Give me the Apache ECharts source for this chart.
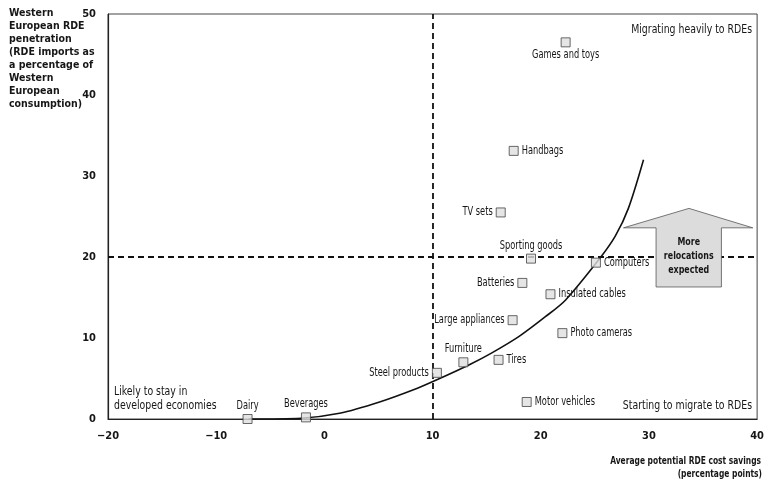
<!DOCTYPE html>
<html>
<head>
<meta charset="utf-8">
<script src="https://cdn.jsdelivr.net/npm/echarts@6/dist/echarts.min.js"></script>
<style>
html,body{margin:0;padding:0;background:#fff;}
#c{width:767px;height:479px;}
</style>
</head>
<body>
<div id="c"></div>
<script>
// ---- data ----
const xTicks = [-20, -10, 0, 10, 20, 30, 40];
const yTicks = [0, 10, 20, 30, 40, 50];
const industries = ['Games and toys','Handbags','TV sets','Sporting goods','Computers','Batteries','Insulated cables','Large appliances','Photo cameras','Furniture','Tires','Steel products','Motor vehicles','Dairy','Beverages'];
const costSavings = [22.3, 17.5, 16.3, 19.1, 25.1, 18.3, 20.9, 17.4, 22.0, 12.85, 16.1, 10.4, 18.7, -7.1, -1.7];
const penetration = [46.5, 33.1, 25.5, 19.8, 19.3, 16.8, 15.4, 12.2, 10.6, 7.0, 7.3, 5.7, 2.1, 0, 0.2];
const labelSide = ['bottom','right','left','top','right','left','right','left','right','top','right','left','right','top','top'];
const curveX = [-7, -2.15, 1.4, 5.1, 8.6, 10.5, 13.4, 15.4, 18.0, 20.4, 22.3, 25.5, 26.9, 28.1, 29.5];
const curveY = [0, 0.1, 0.7, 2.1, 3.8, 4.9, 6.7, 8.1, 10.2, 12.6, 14.7, 19.9, 22.6, 26.0, 32.0];
const thresholdX = 10;
const thresholdY = 20;
const arrowX = [33.7, 39.6, 36.7, 36.7, 30.66, 30.66, 27.65];
const arrowY = [26.0, 23.6, 23.6, 16.3, 16.3, 23.6, 23.6];

const FONT = '"DejaVu Sans Condensed", "Liberation Sans Narrow", sans-serif';
const INK = '#161616';
const SX = 0.8;

const chart = echarts.init(document.getElementById('c'), null, {renderer: 'canvas'});

const pts = industries.map((n, i) => [costSavings[i], penetration[i], i]);

function txt(x, y, text, font, align, opts) {
  return {
    type: 'text', x: x, y: y, scaleX: SX, silent: true,
    style: Object.assign({text: text, font: font, fill: INK, align: align || 'left', verticalAlign: 'middle'}, (opts || {}))
  };
}

const option = {
  animation: false,
  backgroundColor: '#fff',
  grid: {left: 108, right: 8, top: 14, bottom: 60, show: true, borderColor: '#444', borderWidth: 1},
  xAxis: {
    type: 'value', min: -20, max: 40, interval: 10,
    axisLine: {show: true, onZero: false, lineStyle: {color: '#222', width: 1.2}},
    axisTick: {show: false},
    splitLine: {show: false},
    axisLabel: {
      color: INK, fontFamily: FONT, fontWeight: 'bold', fontSize: 11, margin: 12,
      formatter: v => xTicks.includes(v) ? String(v).replace('-', '\u2212') : ''
    }
  },
  yAxis: {
    type: 'value', min: 0, max: 50, interval: 10,
    axisLine: {show: true, onZero: false, lineStyle: {color: '#222', width: 1.2}},
    axisTick: {show: false},
    splitLine: {show: false},
    axisLabel: {
      color: INK, fontFamily: FONT, fontWeight: 'bold', fontSize: 11, margin: 12,
      formatter: v => yTicks.includes(v) ? String(v) : ''
    }
  },
  series: [
    {
      type: 'line',
      data: [],
      silent: true,
      z: 1,
      markLine: {
        z: 1,
        symbol: 'none', silent: true, label: {show: false},
        lineStyle: {color: '#111', type: [6, 4], width: 1.8},
        data: [{xAxis: thresholdX}, {yAxis: thresholdY}]
      }
    },
    {
      type: 'line',
      data: curveX.map((x, i) => [x, curveY[i]]),
      smooth: 0.3,
      symbol: 'none',
      lineStyle: {color: '#111', width: 1.6},
      silent: true,
      z: 2
    },
    {
      type: 'custom',
      silent: true,
      z: 6,
      data: [0],
      renderItem: (params, api) => {
        const p = arrowX.map((x, i) => api.coord([x, arrowY[i]]));
        const c = api.coord([(arrowX[4] + arrowX[3]) / 2, 20.1]);
        return {
          type: 'group',
          children: [
            {type: 'polygon', shape: {points: p}, style: {fill: '#dcdcdc', stroke: '#555', lineWidth: 0.8}},
            txt(c[0], c[1], 'More\nrelocations\nexpected', 'bold 11px ' + FONT, 'center', {lineHeight: 14})
          ]
        };
      }
    },
    {
      type: 'scatter',
      data: pts,
      symbol: 'rect',
      symbolSize: 9,
      itemStyle: {color: '#dedede', borderColor: '#444', borderWidth: 1},
      z: 7
    },
    {
      type: 'custom',
      silent: true,
      z: 8,
      data: pts,
      renderItem: (params, api) => {
        const i = api.value(2);
        const c = api.coord([api.value(0), api.value(1)]);
        const side = labelSide[i];
        const f = '11.5px ' + FONT;
        if (side === 'right') return txt(c[0] + 8, c[1], industries[i], f, 'left');
        if (side === 'left') return txt(c[0] - 8, c[1], industries[i], f, 'right');
        if (side === 'top') return txt(c[0], c[1] - 13, industries[i], f, 'center');
        return txt(c[0], c[1] + 13, industries[i], f, 'center');
      }
    }
  ],
  graphic: [
    {type: 'text', x: 9, y: 7, style: {
      text: 'Western\nEuropean RDE\npenetration\n(RDE imports as\na percentage of\nWestern\nEuropean\nconsumption)',
      font: 'bold 10.5px ' + FONT, fill: INK, lineHeight: 13
    }},
    txt(752, 30, 'Migrating heavily to RDEs', '13px ' + FONT, 'right'),
    txt(752, 406, 'Starting to migrate to RDEs', '13px ' + FONT, 'right'),
    txt(114, 392, 'Likely to stay in', '13px ' + FONT, 'left'),
    txt(114, 406, 'developed economies', '13px ' + FONT, 'left'),
    Object.assign(txt(761, 461, 'Average potential RDE cost savings', 'bold 11px ' + FONT, 'right'), {scaleX: 0.76}),
    Object.assign(txt(762, 474, '(percentage points)', 'bold 11px ' + FONT, 'right'), {scaleX: 0.76})
  ]
};
chart.setOption(option);
</script>
</body>
</html>
